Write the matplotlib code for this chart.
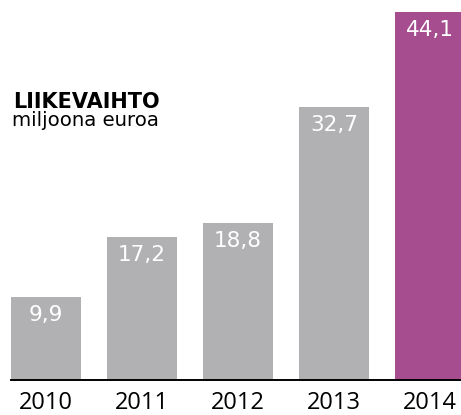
import matplotlib
matplotlib.use("Agg")
import matplotlib.pyplot as plt

years = ["2010", "2011", "2012", "2013", "2014"]
values = [9.9, 17.2, 18.8, 32.7, 44.1]
value_labels = ["9,9", "17,2", "18,8", "32,7", "44,1"]
colors = ["#b1b1b3", "#b1b1b3", "#b1b1b3", "#b1b1b3", "#a64d90"]
title = "LIIKEVAIHTO"
subtitle = "miljoona euroa"

W, H = 461, 415
fig = plt.figure(figsize=(W / 100, H / 100), dpi=100)
base_px = 380
ax = fig.add_axes([0, 1 - base_px / H, 1, base_px / H])

pitch = 96.0
c0 = 46.0
xs = list(range(len(years)))
ax.bar(xs, values, width=70 / pitch, color=colors, zorder=2)
ax.set_xlim((0 - c0) / pitch, (W - c0) / pitch)
ax.set_ylim(0, base_px / 8.34)

for x, v, lab in zip(xs, values, value_labels):
    ax.annotate(lab, (x, v), xytext=(0, -8), textcoords="offset pixels",
                ha="center", va="top", color="white", fontsize=15.5,
                family="DejaVu Sans")

for s in ["top", "right", "left"]:
    ax.spines[s].set_visible(False)
ax.spines["bottom"].set_color("black")
ax.spines["bottom"].set_linewidth(1.4)
ax.spines["bottom"].set_bounds((11 - c0) / pitch, (W - c0) / pitch)
ax.set_yticks([])
ax.set_xticks(xs)
ax.set_xticklabels(years, fontsize=17, family="Open Sans")
ax.tick_params(axis="x", length=0, pad=8)

fig.text(13 / W, 1 - 92 / H, title, fontsize=15, fontweight="bold",
         family="DejaVu Sans", va="top", ha="left")
fig.text(12 / W, 1 - 111 / H, subtitle, fontsize=14.2,
         family="DejaVu Sans", va="top", ha="left")

fig.savefig("out.png", dpi=100)
